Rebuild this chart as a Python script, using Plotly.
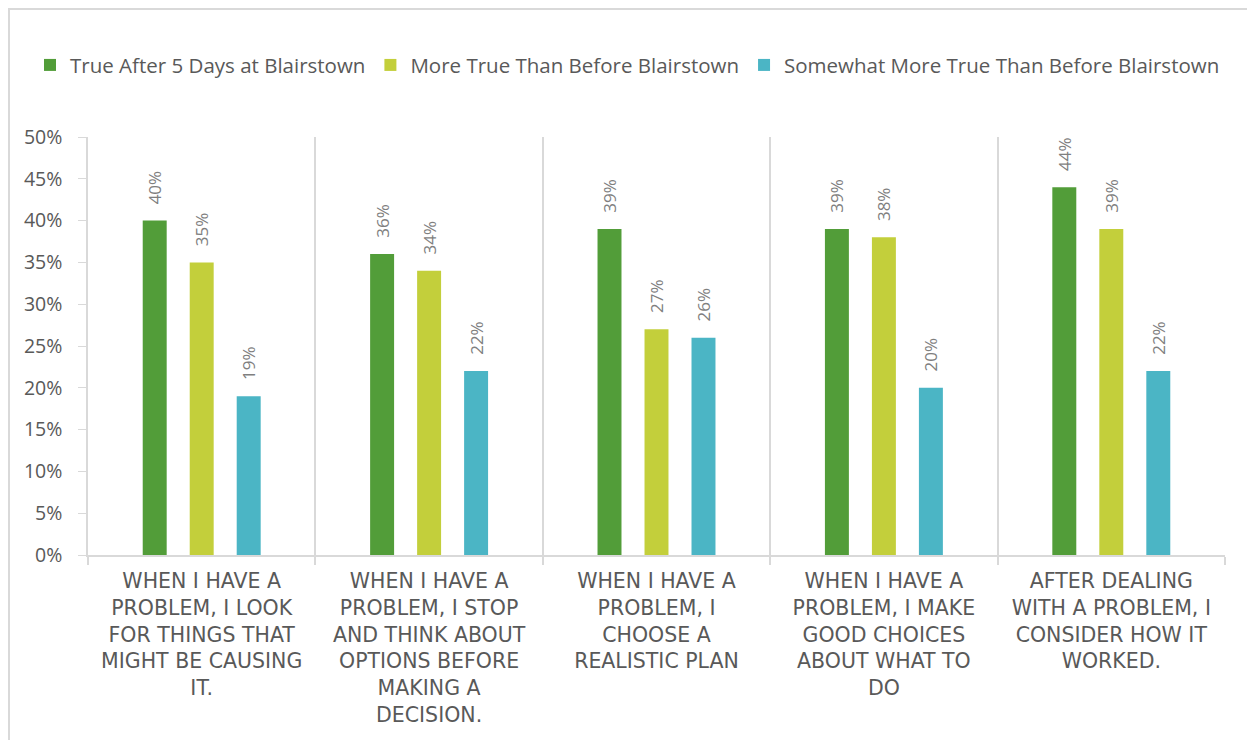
import plotly.graph_objects as go

categories = [
    "WHEN I HAVE A<br>PROBLEM, I LOOK<br>FOR THINGS THAT<br>MIGHT BE CAUSING<br>IT.",
    "WHEN I HAVE A<br>PROBLEM, I STOP<br>AND THINK ABOUT<br>OPTIONS BEFORE<br>MAKING A<br>DECISION.",
    "WHEN I HAVE A<br>PROBLEM, I<br>CHOOSE A<br>REALISTIC PLAN",
    "WHEN I HAVE A<br>PROBLEM, I MAKE<br>GOOD CHOICES<br>ABOUT WHAT TO<br>DO",
    "AFTER DEALING<br>WITH A PROBLEM, I<br>CONSIDER HOW IT<br>WORKED.",
]
series_names = [
    "True After 5 Days at Blairstown",
    "More True Than Before Blairstown",
    "Somewhat More True Than Before Blairstown",
]
true_after = [0.40, 0.36, 0.39, 0.39, 0.44]
more_true = [0.35, 0.34, 0.27, 0.38, 0.39]
somewhat_more = [0.19, 0.22, 0.26, 0.20, 0.22]
y_ticks = [0, 0.05, 0.10, 0.15, 0.20, 0.25, 0.30, 0.35, 0.40, 0.45, 0.50]

colors = ["#529D39", "#C3CF3B", "#4BB5C5"]
values = [true_after, more_true, somewhat_more]

fig = go.Figure()
for name, vals, col in zip(series_names, values, colors):
    fig.add_trace(go.Bar(
        x=categories, y=vals, name=name,
        marker=dict(color=col, line=dict(width=0)),
        texttemplate="\u00a0\u00a0\u00a0%{y:.0%}", textposition="outside", textangle=-90,
        constraintext="none",
        textfont=dict(family="Open Sans", size=17, color="#7F7F7F"),
        cliponaxis=False,
    ))

fig.update_layout(
    width=1255, height=740,
    barmode="group", bargap=0.38, bargroupgap=0.49,
    plot_bgcolor="white", paper_bgcolor="white",
    margin=dict(l=80, r=38, t=129, b=193, autoexpand=False),
    font=dict(family="Open Sans", color="#595959"),
    legend=dict(
        orientation="h", xref="paper", yref="paper",
        x=-0.051, xanchor="left", y=1.172, yanchor="middle",
        font=dict(family="Open Sans", size=20.5, color="#595959"),
        itemwidth=30, traceorder="normal",
    ),
)
fig.update_xaxes(
    type="category", tickson="boundaries", showgrid=True,
    gridcolor="#D9D9D9", gridwidth=1.5,
    showline=True, linecolor="#D9D9D9", linewidth=1.5,
    ticks="outside", ticklen=8, tickcolor="#D9D9D9", tickwidth=1.5,
    tickangle=0, ticklabelstandoff=7,
    tickfont=dict(family="DejaVu Sans", size=20.5, color="#595959"),
)
fig.update_yaxes(
    range=[0, 0.5], tickvals=y_ticks, tickformat=".0%",
    showgrid=False, zeroline=False,
    showline=True, linecolor="#D9D9D9", linewidth=1.5,
    ticks="outside", ticklen=8, tickcolor="#D9D9D9",
    ticklabelstandoff=12,
    tickfont=dict(family="Open Sans", size=19.5, color="#595959"),
)
fig.add_shape(
    type="rect", xref="paper", yref="paper",
    x0=-0.0695, x1=1.022, y0=-0.5, y1=1.306,
    line=dict(color="#D9D9D9", width=2), fillcolor="rgba(0,0,0,0)", layer="below",
)
fig.write_html("out.html")
